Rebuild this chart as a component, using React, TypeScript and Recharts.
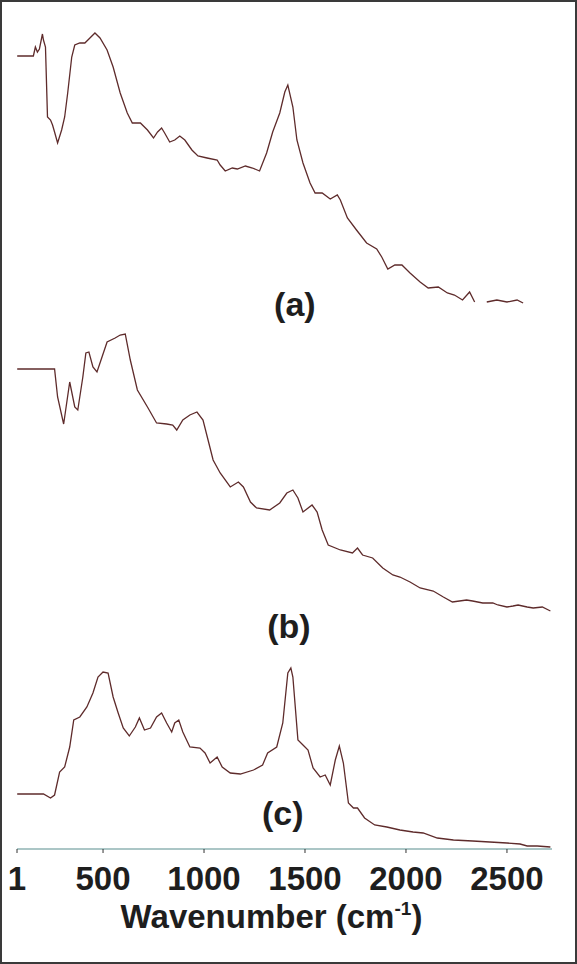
import React from 'react';
import { LineChart, Line, XAxis, YAxis, ReferenceDot } from 'recharts';

// wavenumber axis: the figure starts its axis at a point labelled "1"
const X_START = 74;
const X_END = 2723;
const tickValues = [X_START, 500, 1000, 1500, 2000, 2500];
const tickLabels = ['1', '500', '1000', '1500', '2000', '2500'];

// spectrum (a) - intensities are offset arbitrary units
const waveA = [75, 155, 165, 175, 185, 200, 205, 215, 225, 240, 250, 260, 275, 295, 310, 325, 345, 360, 385, 410, 435, 460, 485, 520, 550, 585, 620, 645, 685, 720, 750, 770, 790, 805, 830, 855, 880, 905, 940, 970, 1015, 1065, 1080, 1105, 1140, 1165, 1205, 1240, 1275, 1310, 1340, 1375, 1400, 1415, 1440, 1460, 1490, 1525, 1550, 1585, 1625, 1660, 1675, 1710, 1755, 1805, 1855, 1880, 1910, 1945, 1980, 2020, 2070, 2110, 2160, 2205, 2240, 2280, 2315, 2340, 2370, 2400, 2450, 2500, 2550, 2580];
const intA = [79.3, 79.3, 80.2, 79.7, 80.0, 81.5, 80.9, 80.2, 73.2, 72.9, 72.4, 71.7, 70.6, 71.9, 73.2, 75.6, 79.2, 80.4, 80.6, 80.6, 81.1, 81.6, 81.1, 79.9, 78.2, 75.6, 73.6, 72.6, 72.6, 71.9, 71.1, 71.7, 72.1, 71.6, 70.7, 70.9, 71.3, 70.9, 69.9, 69.3, 69.1, 68.9, 68.4, 67.8, 68.1, 68.0, 68.3, 68.1, 67.8, 69.6, 71.7, 73.6, 75.7, 76.4, 74.2, 70.9, 68.6, 66.6, 65.6, 65.6, 65.0, 65.4, 64.9, 63.1, 61.9, 60.6, 60.0, 59.2, 58.0, 58.4, 58.4, 57.6, 56.7, 56.1, 56.2, 55.6, 55.4, 54.9, 55.7, 54.7, null, 54.7, 54.9, 54.7, 54.9, 54.6];

// spectrum (b)
const waveB = [75, 260, 275, 305, 335, 360, 375, 400, 415, 430, 450, 470, 495, 520, 560, 585, 610, 635, 670, 720, 765, 815, 845, 865, 895, 930, 965, 995, 1020, 1045, 1080, 1130, 1170, 1195, 1230, 1260, 1325, 1375, 1410, 1440, 1465, 1490, 1535, 1560, 1585, 1615, 1675, 1735, 1760, 1785, 1835, 1885, 1935, 1970, 2020, 2070, 2135, 2185, 2230, 2300, 2330, 2380, 2430, 2455, 2500, 2530, 2555, 2600, 2630, 2675, 2715];
const intB = [48.0, 48.0, 45.2, 42.5, 46.7, 44.2, 43.9, 47.2, 49.6, 49.7, 48.2, 47.7, 49.2, 50.7, 51.1, 51.4, 51.5, 48.9, 45.9, 44.2, 42.6, 42.5, 42.4, 41.9, 42.9, 43.4, 43.7, 42.9, 40.9, 38.9, 37.6, 36.2, 36.7, 36.2, 34.7, 34.1, 33.9, 34.6, 35.6, 35.9, 35.1, 33.7, 34.4, 33.7, 31.9, 30.4, 29.9, 29.6, 30.1, 29.4, 29.1, 28.1, 27.4, 27.2, 26.7, 26.1, 25.8, 25.2, 24.7, 24.9, 24.8, 24.6, 24.6, 24.4, 24.2, 24.3, 24.4, 24.2, 24.1, 24.2, 23.8];

// spectrum (c)
const waveC = [75, 205, 240, 260, 285, 310, 335, 355, 385, 420, 450, 475, 500, 525, 550, 575, 600, 630, 660, 680, 705, 735, 765, 790, 815, 840, 855, 875, 895, 930, 980, 1005, 1030, 1065, 1090, 1130, 1180, 1245, 1290, 1315, 1360, 1390, 1415, 1430, 1440, 1465, 1490, 1515, 1540, 1575, 1600, 1625, 1650, 1670, 1690, 1715, 1740, 1760, 1795, 1845, 1905, 1970, 2035, 2085, 2155, 2235, 2330, 2415, 2500, 2565, 2600, 2650, 2715];
const intC = [5.5, 5.5, 5.1, 5.4, 7.7, 8.2, 10.2, 12.9, 13.2, 14.2, 15.6, 17.2, 17.7, 17.6, 15.2, 13.6, 12.1, 11.3, 12.2, 13.1, 11.9, 12.1, 13.2, 13.6, 12.6, 11.7, 12.6, 12.9, 11.7, 10.2, 10.1, 9.6, 8.6, 9.2, 8.2, 7.6, 7.5, 7.9, 8.4, 9.6, 10.2, 12.6, 17.6, 18.1, 17.2, 10.9, 10.4, 9.9, 8.1, 7.2, 7.4, 6.4, 8.9, 10.3, 8.6, 4.6, 4.1, 4.1, 3.1, 2.4, 2.2, 1.9, 1.7, 1.6, 1.1, 0.9, 0.8, 0.7, 0.6, 0.5, 0.3, 0.3, 0.2];

const seriesNames = ['(a)', '(b)', '(c)'];

const toPoints = (wave: number[], vals: (number | null)[]) =>
  wave.map((wn, i) => ({ wn, v: vals[i] }));

const seriesA = toPoints(waveA, intA);
const seriesB = toPoints(waveB, intB);
const seriesC = toPoints(waveC, intC);

const FONT = '"Liberation Sans", Arial, Helvetica, sans-serif';
const LINE_COLOR = '#5e2b2b';

const AxisTitle = (props: any) => {
  const vb = props.viewBox || {};
  const cx = vb.x + vb.width / 2 - 13;
  const y = vb.y + 79;
  return (
    <text x={cx} y={y} textAnchor="middle" fontFamily={FONT} fontWeight={700} fontSize={33} fill="#1e1e1e">
      Wavenumber (cm
      <tspan dy={-13} fontSize={19}>-1</tspan>
      <tspan dy={13}>)</tspan>
    </text>
  );
};

const seriesLabel = (text: string) => ({
  value: text,
  position: 'center' as const,
  fontFamily: FONT,
  fontWeight: 700,
  fontSize: 34,
  fill: '#1e1e1e',
});

export default function App() {
  return (
    <div style={{ position: 'absolute', left: 0, top: 0, width: 577, height: 964, background: '#fff' }}>
      <LineChart width={577} height={964} margin={{ top: 9, right: 25, bottom: 15, left: 17 }}>
        <XAxis
          dataKey="wn"
          type="number"
          domain={[X_START, X_END]}
          ticks={tickValues}
          allowDataOverflow
          tickFormatter={(v: number) => tickLabels[tickValues.indexOf(v)] ?? String(v)}
          tick={{ fontSize: 33, fontWeight: 700, fill: '#1e1e1e', fontFamily: FONT }}
          tickLine={{ stroke: '#333' }}
          tickSize={4}
          tickMargin={14}
          axisLine={{ stroke: '#8fb3b3', strokeWidth: 1.5 }}
          height={100}
          label={{ content: AxisTitle }}
        />
        <YAxis type="number" domain={[0, 84]} hide allowDataOverflow />
        <Line data={seriesA} dataKey="v" type="linear" stroke={LINE_COLOR} strokeWidth={1.3} dot={false} isAnimationActive={false} />
        <Line data={seriesB} dataKey="v" type="linear" stroke={LINE_COLOR} strokeWidth={1.3} dot={false} isAnimationActive={false} />
        <Line data={seriesC} dataKey="v" type="linear" stroke={LINE_COLOR} strokeWidth={1.3} dot={false} isAnimationActive={false} />
        <ReferenceDot x={1450} y={54.5} r={0} fill="none" stroke="none" label={seriesLabel(seriesNames[0])} />
        <ReferenceDot x={1420} y={22.3} r={0} fill="none" stroke="none" label={seriesLabel(seriesNames[1])} />
        <ReferenceDot x={1390} y={3.6} r={0} fill="none" stroke="none" label={seriesLabel(seriesNames[2])} />
      </LineChart>
      <div
        style={{
          position: 'absolute',
          left: 0,
          top: 0,
          width: 577,
          height: 964,
          border: '2px solid #3a3a3a',
          boxSizing: 'border-box',
          pointerEvents: 'none',
        }}
      />
    </div>
  );
}
